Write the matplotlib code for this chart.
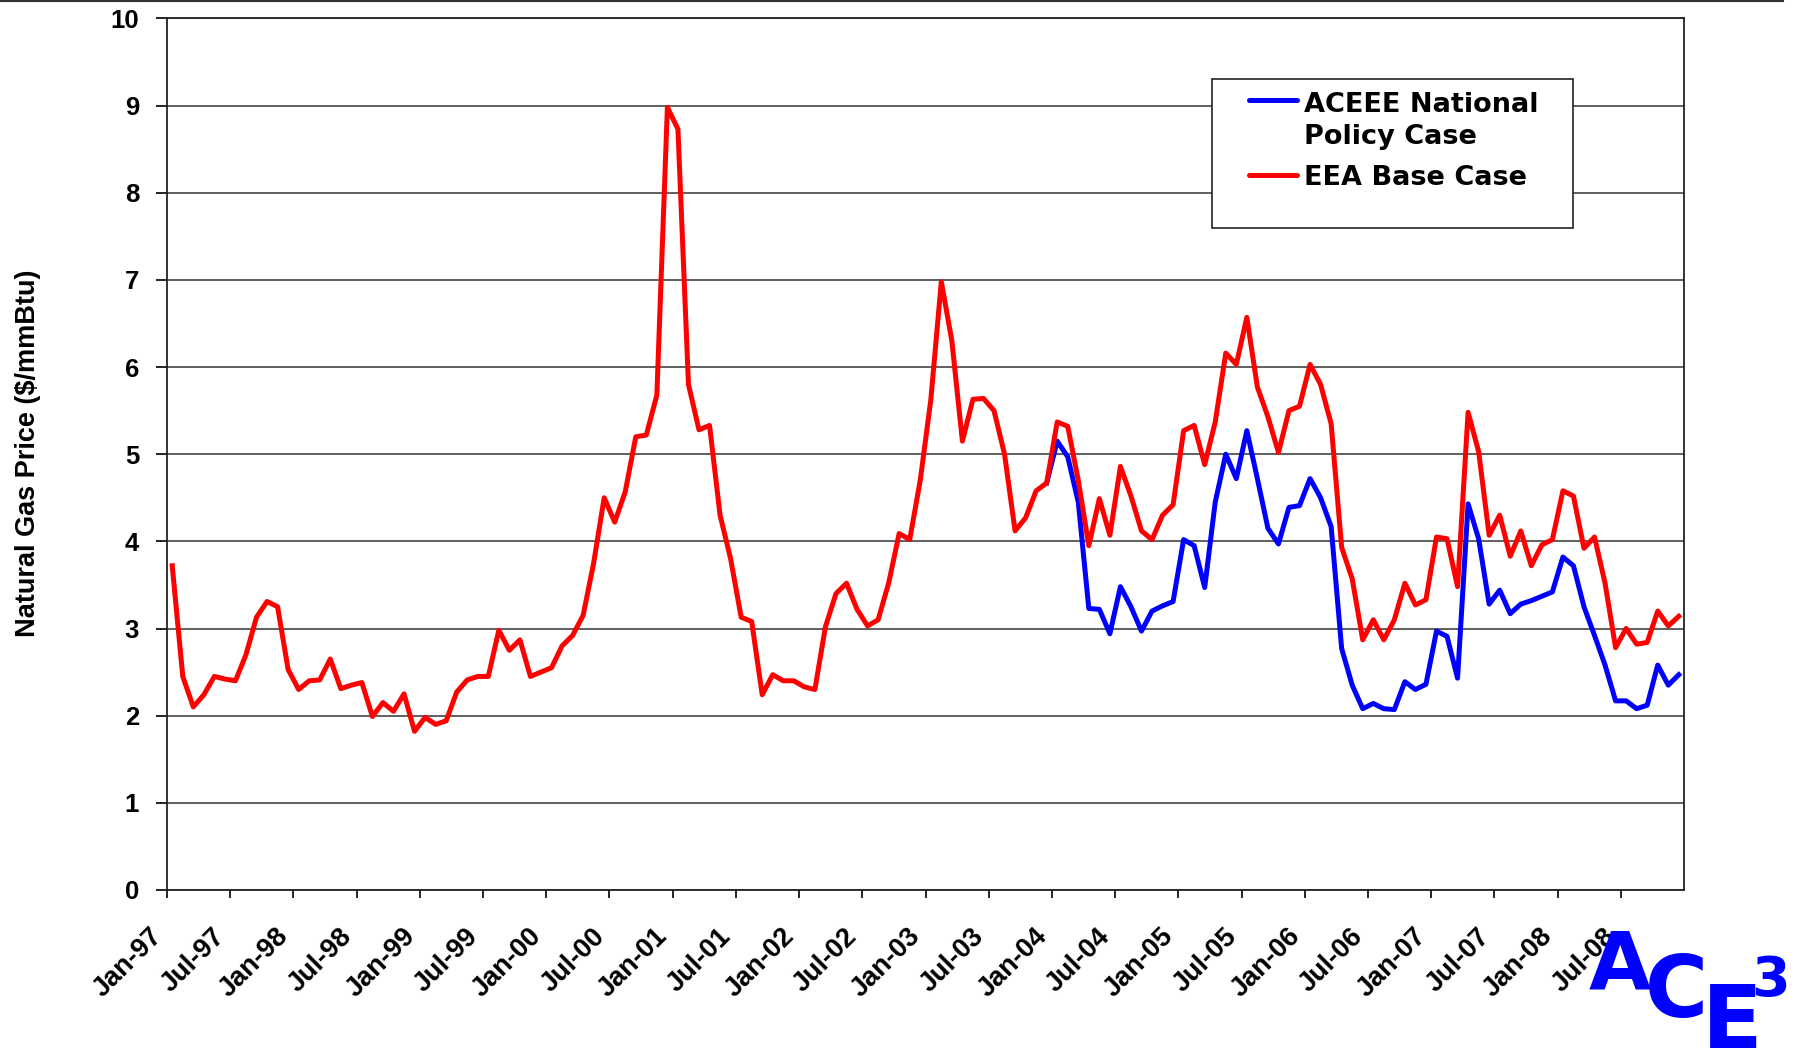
import matplotlib
matplotlib.use("Agg")
import matplotlib.pyplot as plt
import matplotlib.transforms as mtransforms
from matplotlib.lines import Line2D
from matplotlib.patches import Rectangle

plt.rcParams['font.family'] = ['Liberation Sans', 'DejaVu Sans']
plt.rcParams['font.weight'] = 'bold'

# monthly prices, Jan-97 .. Dec-08
eea_base = [
    3.72, 2.45, 2.10, 2.24, 2.45, 2.42, 2.40, 2.70, 3.13, 3.31, 3.25, 2.53,  # 1997
    2.30, 2.40, 2.41, 2.65, 2.31, 2.35, 2.38, 1.99, 2.15, 2.05, 2.25, 1.82,  # 1998
    1.98, 1.90, 1.94, 2.27, 2.41, 2.45, 2.45, 2.98, 2.75, 2.87, 2.45, 2.50,  # 1999
    2.55, 2.80, 2.92, 3.15, 3.75, 4.50, 4.22, 4.57, 5.20, 5.22, 5.68, 8.98,  # 2000
    8.73, 5.80, 5.28, 5.33, 4.30, 3.80, 3.13, 3.08, 2.24, 2.47, 2.40, 2.40,  # 2001
    2.33, 2.30, 3.02, 3.40, 3.52, 3.22, 3.03, 3.10, 3.52, 4.09, 4.02, 4.70,  # 2002
    5.62, 6.98, 6.30, 5.15, 5.63, 5.64, 5.50, 5.00, 4.12, 4.27, 4.58, 4.67,  # 2003
    5.37, 5.32, 4.70, 3.95, 4.49, 4.07, 4.86, 4.52, 4.12, 4.02, 4.30, 4.42,  # 2004
    5.27, 5.33, 4.88, 5.37, 6.16, 6.03, 6.57, 5.77, 5.43, 5.02, 5.50, 5.55,  # 2005
    6.03, 5.80, 5.35, 3.93, 3.57, 2.87, 3.10, 2.87, 3.10, 3.52, 3.27, 3.33,  # 2006
    4.05, 4.03, 3.48, 5.48, 5.03, 4.07, 4.30, 3.83, 4.12, 3.72, 3.96, 4.02,  # 2007
    4.58, 4.52, 3.92, 4.05, 3.52, 2.78, 3.00, 2.82, 2.84, 3.20, 3.03, 3.14,  # 2008
]

# policy case starts from Dec-03 (index 83)
aceee_start = 83
aceee_policy = [
    4.67,
    5.15, 4.97, 4.45, 3.23, 3.22, 2.94, 3.48, 3.25, 2.97, 3.20, 3.26, 3.31,  # 2004
    4.02, 3.95, 3.47, 4.45, 5.00, 4.72, 5.27, 4.72, 4.15, 3.97, 4.39, 4.41,  # 2005
    4.72, 4.50, 4.17, 2.77, 2.35, 2.08, 2.14, 2.08, 2.07, 2.39, 2.30, 2.36,  # 2006
    2.97, 2.91, 2.43, 4.43, 4.03, 3.28, 3.44, 3.17, 3.28, 3.32, 3.37, 3.42,  # 2007
    3.82, 3.72, 3.25, 2.92, 2.58, 2.17, 2.17, 2.08, 2.12, 2.58, 2.35, 2.47,  # 2008
]

tick_labels = []
for yy in range(97, 109):
    tick_labels += ["Jan-%02d" % (yy % 100), "Jul-%02d" % (yy % 100)]

x_red = list(range(len(eea_base)))
x_blue = list(range(aceee_start, aceee_start + len(aceee_policy)))

fig = plt.figure(figsize=(18.05, 10.48), dpi=100)
ax = fig.add_axes([0.0925, 0.1508, 0.8405, 0.8316])

ax.plot(x_blue, aceee_policy, color='#0000ff', lw=3.6)
ax.plot(x_red, eea_base, color='#ff0000', lw=3.6)

ax.set_xlim(-0.5, 143.5)
ax.set_ylim(0, 10)
ax.set_yticks(range(0, 11))
ax.set_xticks([i * 6 - 0.5 for i in range(len(tick_labels))])
ax.set_xticklabels(tick_labels, rotation=45, ha='right', rotation_mode='anchor',
                   fontsize=19.5, fontweight='bold')
ax.tick_params(axis='y', labelsize=18.5, length=8, width=1.2, direction='out', pad=12)
ax.tick_params(axis='x', length=6, width=1.2, direction='out', pad=18)
for lbl in ax.get_yticklabels():
    lbl.set_fontweight('bold')
shift = mtransforms.ScaledTranslation(-0.18, 0, fig.dpi_scale_trans)
for lbl in ax.get_xticklabels():
    lbl.set_transform(lbl.get_transform() + shift)

ax.grid(axis='y', color='#444444', lw=1.2)
ax.set_axisbelow(True)
for sp in ax.spines.values():
    sp.set_color('#222222')
    sp.set_linewidth(1.3)

ax.set_ylabel("Natural Gas Price ($/mmBtu)", fontsize=19.5, fontweight='bold')
ax.yaxis.set_label_coords(-0.083, 0.501)

# legend box, laid out by hand: handle lines up with the first text line
ax.add_patch(Rectangle((0.689, 0.760), 0.238, 0.171, transform=ax.transAxes,
                       facecolor='white', edgecolor='#222222', lw=1.2, zorder=5))
leg_font = dict(family='DejaVu Sans', fontweight='bold', fontsize=19.5,
                transform=ax.transAxes, va='baseline', ha='left', zorder=6)
ax.add_line(Line2D([0.713, 0.745], [0.906, 0.906], color='#0000ff', lw=3.6,
                   transform=ax.transAxes, zorder=6, solid_capstyle='round'))
ax.add_line(Line2D([0.713, 0.745], [0.820, 0.820], color='#ff0000', lw=3.6,
                   transform=ax.transAxes, zorder=6, solid_capstyle='round'))
ax.text(0.7495, 0.8922, "ACEEE National", **leg_font)
ax.text(0.7495, 0.8555, "Policy Case", **leg_font)
ax.text(0.7495, 0.8085, "EEA Base Case", **leg_font)

# slide border line at top
fig.add_artist(Line2D([0.0, 0.988], [0.999, 0.999], color='#333333', lw=1.5,
                      transform=fig.transFigure))

# logo, letters staggered
logo_kw = dict(color='#0000ff', fontweight='black', family='DejaVu Sans', va='top', ha='left')
fig.text(0.880, 0.114, "A", fontsize=58, **logo_kw)
fig.text(0.911, 0.092, "C", fontsize=62, **logo_kw)
fig.text(0.943, 0.064, "E", fontsize=64, **logo_kw)
fig.text(0.970, 0.090, "3", fontsize=40, **logo_kw)

fig.savefig("out.png", dpi=100)
